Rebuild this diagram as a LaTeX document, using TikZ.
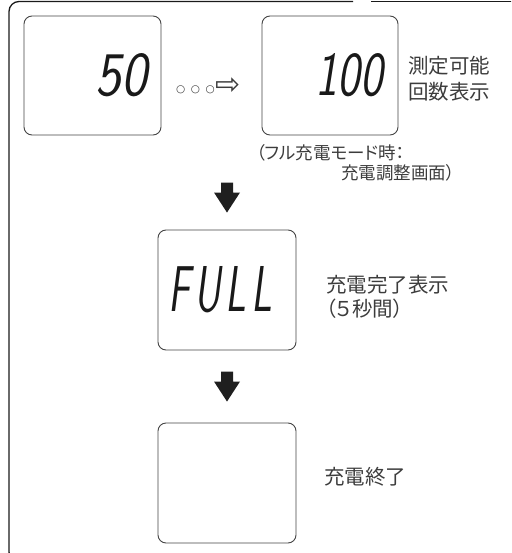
\documentclass[tikz,border=0pt]{standalone}
\usepackage{fontspec}
\newfontfamily\jp{Noto Sans CJK JP}
\newfontfamily\jpp[CharacterWidth=AlternateProportional]{Noto Sans CJK JP}
\newfontfamily\dv{DejaVu Sans}
\definecolor{frame}{HTML}{1A1A1A}
\definecolor{boxline}{HTML}{444444}
\definecolor{txt}{HTML}{3C3C3C}
\tikzset{
  lcdbox/.style={draw=boxline, line width=0.9pt, rounded corners=8pt, minimum width=137pt, minimum height=119pt, inner sep=0pt},
  lcd/.style={inner sep=0pt, text=black!90},
  label/.style={inner sep=0pt, text=txt, font=\jp\fontsize{20.5}{26}\selectfont, align=left},
  note/.style={inner sep=0pt, text=txt, font=\jpp\fontsize{17.5}{22}\selectfont},
  blockarrow/.style={fill=black!88},
}
\newcommand\downblk[1]{%
  \fill[blockarrow] (#1) -- ++(-13,-20) -- ++(7,0) -- ++(0,-10) -- ++(12,0) -- ++(0,10) -- ++(7,0) -- cycle;}
\begin{document}
\begin{tikzpicture}[x=1pt,y=-1pt]
\useasboundingbox (0,0) rectangle (511,553);
\clip (0,0) rectangle (511,553);
% outer frame
\draw[frame, line width=1.3pt, rounded corners=10pt] (353,1.5) -- (9,1.5) -- (9,562) -- (540,562);
\draw[frame, line width=1.3pt] (371,1.5) -- (520,1.5);
% boxes
\node[lcdbox] (b1) at (92.5,75.5) {};
\node[lcdbox, minimum width=136pt] (b2) at (330,75.5) {};
\node[lcdbox, minimum width=138pt, minimum height=120pt] (b3) at (227,290) {};
\node[lcdbox, minimum width=138pt, minimum height=120pt] (b4) at (227,483) {};
% LCD digits
\node[lcd, anchor=south west] (d1) at (95,97) {\resizebox{52pt}{42pt}{\sffamily\slshape 50}};
\node[lcd, anchor=south west] (d2) at (315,97) {\resizebox{68pt}{42pt}{\sffamily\slshape 100}};
\node[lcd, anchor=south west] (d3) at (168,313) {\resizebox{104pt}{45pt}{\sffamily\slshape F\hspace{0.12em}U\hspace{0.12em}L\hspace{0.12em}L}};
% dots and arrow
\node[inner sep=0pt, text=txt, anchor=west] (dots) at (176,86) {\dv\fontsize{10.5}{12}\selectfont ○\hspace{5.5pt}○\hspace{5.5pt}○\hspace{1pt}\raisebox{-1.5pt}{\fontsize{30}{30}\selectfont ⇨}};
% labels
\node[label, anchor=west] (t1) at (408,79) {測定可能\\回数表示};
\node[note, anchor=west] (n1) at (256,153) {（フル充電モード時：};
\node[note, anchor=east] (n2) at (455,173) {充電調整画面）};
\node[label, anchor=west, font=\jpp\fontsize{20.5}{23.5}\selectfont] (t3) at (326,297) {充電完了表示\\（５秒間）};
\node[label, anchor=west] (t4) at (324,477) {充電終了};
% block arrows
\path (b3.north) ++(0,-17) coordinate (a1);
\path (b4.north) ++(0,-21) coordinate (a2);
\downblk{a1}
\downblk{a2}
\end{tikzpicture}
\end{document}
